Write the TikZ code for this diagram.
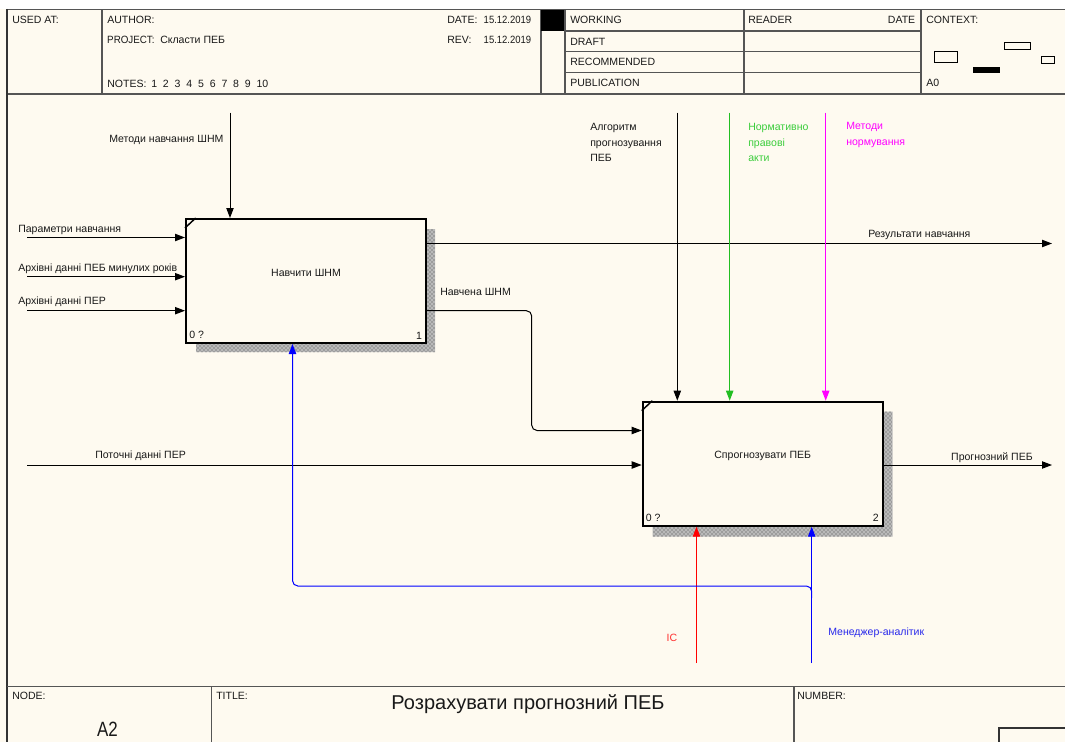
\documentclass[tikz,border=0pt]{standalone}
\usepackage{fontspec}
\setmainfont{Liberation Sans}
\usetikzlibrary{arrows.meta,patterns}
\definecolor{paper}{RGB}{254,250,240}
\definecolor{frame}{RGB}{85,85,85}
\definecolor{txt}{RGB}{25,25,25}
\definecolor{cgreen}{RGB}{34,190,34}
\definecolor{cgreent}{RGB}{60,205,60}
\definecolor{cmag}{RGB}{255,0,255}
\definecolor{cred}{RGB}{255,0,0}
\definecolor{credt}{RGB}{255,50,50}
\definecolor{cblue}{RGB}{0,0,255}
\definecolor{cbluet}{RGB}{40,40,235}
\tikzset{
  lbl/.style={inner sep=0pt, font=\fontsize{7.9pt}{11.5pt}\selectfont, text=txt},
  lblw/.style={lbl, anchor=west, align=left},
  idef/.style={draw=black, line width=1.5pt, fill=paper, minimum width=180pt, minimum height=93pt, inner sep=0pt},
  arr/.style={line width=0.75pt, -{Triangle[length=7.5pt,width=5.5pt]}},
  flow/.style={line width=0.75pt},
  shadowfill/.style={fill=gray!55},
  shadowpat/.style={pattern=crosshatch dots, pattern color=gray!50!black},
  frameline/.style={draw=frame, line width=1.1pt},
}
\begin{document}
\begin{tikzpicture}[x=0.75pt,y=-0.75pt]
\fill[paper] (0,0) rectangle (1065,742);
\fill[white] (0,0) rectangle (1065,9);
\useasboundingbox (0,0) rectangle (1065,742);

% ---------- header frame ----------
\draw[frameline] (7,9.5) -- (1065,9.5);
\draw[frameline] (7,94) -- (1065,94);
\draw[frameline] (102,9.5) -- (102,94);
\draw[frameline] (541,9.5) -- (541,94);
\fill[black] (541,10) rectangle (565,31);
\draw[frameline] (565,9.5) -- (565,94);
\draw[frameline] (744,9.5) -- (744,94);
\draw[frameline] (921,9.5) -- (921,94);
\draw[frameline] (565,31) -- (921,31);
\draw[frameline] (565,51.5) -- (921,51.5);
\draw[frameline] (565,72.5) -- (921,72.5);

\node[lblw] (usedat) at (12,19.5) {USED AT:};
\node[lblw] (author) at (107,19.5) {AUTHOR:};
\node[lblw, xscale=0.93] (project) at (107,40) {PROJECT:};
\node[lblw] (projname) at (160,40) {Скласти ПЕБ};
\node[lblw] (notes) at (107,83.5) {NOTES:};
\node[lblw] (notesnum) at (151,83.5) {1\ \ 2\ \ 3\ \ 4\ \ 5\ \ 6\ \ 7\ \ 8\ \ 9\ \ 10};
\node[lblw] (date) at (447,19.5) {DATE:};
\node[lblw, xscale=0.9] (dateval) at (483.5,19.5) {15.12.2019};
\node[lblw] (rev) at (447,40) {REV:};
\node[lblw, xscale=0.9] (revval) at (483.5,40) {15.12.2019};
\node[lblw] (working) at (570,20) {WORKING};
\node[lblw] (draft) at (570,41.5) {DRAFT};
\node[lblw] (recom) at (570,62.3) {RECOMMENDED};
\node[lblw] (publ) at (570,83) {PUBLICATION};
\node[lblw] (reader) at (748,20) {READER};
\node[lbl, anchor=east] (rdate) at (915.5,20) {DATE};
\node[lblw] (context) at (926,20) {CONTEXT:};
\node[lblw] (azero) at (926,83) {A0};
% context thumbnails
\draw[draw=black, line width=0.6pt] (934,51) rectangle (957,62);
\draw[draw=black, line width=0.6pt] (1004,42) rectangle (1030,49);
\fill[black] (973,67) rectangle (1000,73);
\draw[draw=black, line width=0.6pt] (1041,56) rectangle (1054,63);

% ---------- left border ----------
\draw[draw=black!80, line width=1.6pt] (7,9) -- (7,742);

% ---------- bottom frame ----------
\draw[frameline] (7,686.5) -- (1065,686.5);
\draw[frameline] (211.5,686.5) -- (211.5,742);
\draw[frameline] (794,686.5) -- (794,742);
\draw[draw=black!80, line width=0.8pt] (1065,728) -- (999,728) -- (999,742);
\node[lblw] (nodelbl) at (12,695.5) {NODE:};
\node[lblw] (titlelbl) at (216,695.5) {TITLE:};
\node[lblw] (numlbl) at (797,695.5) {NUMBER:};
\node[lbl, font=\fontsize{15.5pt}{17pt}\selectfont, xscale=0.82] (nodeval) at (107.5,729) {A2};
\node[lbl, font=\fontsize{15pt}{17pt}\selectfont] (title) at (528,704) {Розрахувати прогнозний ПЕБ};

% ---------- shadows ----------
\fill[shadowfill] (426,229) -- (435,229) -- (435,352) -- (196,352) -- (196,343) -- (426,343) -- cycle;
\fill[shadowpat] (426,229) -- (435,229) -- (435,352) -- (196,352) -- (196,343) -- (426,343) -- cycle;
\fill[shadowfill] (882.7,411.7) -- (892.7,411.7) -- (892.7,536.7) -- (652.5,536.7) -- (652.5,525.7) -- (882.7,525.7) -- cycle;
\fill[shadowpat] (882.7,411.7) -- (892.7,411.7) -- (892.7,536.7) -- (652.5,536.7) -- (652.5,525.7) -- (882.7,525.7) -- cycle;

% ---------- activity boxes ----------
\node[idef] (b1) at (306,281) {};
\node[idef] (b2) at (762.7,463.7) {};
\draw[line width=1.1pt] ([yshift=-7.5pt]b1.north west) -- ([xshift=8pt]b1.north west);
\draw[line width=1.1pt] ([yshift=-7.5pt]b2.north west) -- ([xshift=8pt]b2.north west);
\node[lbl] (b1txt) at ([yshift=6pt]b1.center) {Навчити ШНМ};
\node[lbl] (b2txt) at ([yshift=5.5pt]b2.center) {Спрогнозувати ПЕБ};
\node[lbl, anchor=south west] (b1num0) at ([xshift=3pt,yshift=3.5pt]b1.south west) {0 ?};
\node[lbl, anchor=south east] (b1num) at ([xshift=-3.5pt,yshift=3.5pt]b1.south east) {1};
\node[lbl, anchor=south west] (b2num0) at ([xshift=3pt,yshift=3.5pt]b2.south west) {0 ?};
\node[lbl, anchor=south east] (b2num) at ([xshift=-3.5pt,yshift=3.5pt]b2.south east) {2};

% ---------- coordinates ----------
\coordinate (mnS) at (230,112.7);
\coordinate (parS) at (27,237.5);
\coordinate (arhpS) at (27,276.7);
\coordinate (arhrS) at (27,310.7);
\coordinate (resE) at (1052,243.5);
\coordinate (nvJ) at (531.7,310.7);
\coordinate (nvK) at (531.7,430.5);
\coordinate (algS) at (677.3,112.7);
\coordinate (normS) at (729.7,112.7);
\coordinate (mnormS) at (825.7,112.7);
\coordinate (potS) at (27,465);
\coordinate (progE) at (1052,465);
\coordinate (isS) at (696.5,663);
\coordinate (mgrS) at (811.7,663);
\coordinate (brJ) at (811.7,598);
\coordinate (brC) at (292.5,586);

% ---------- connectors ----------
\draw[arr] (mnS) -- (mnS |- b1.north);
\draw[arr] (parS) -- (parS -| b1.west);
\draw[arr] (arhpS) -- (arhpS -| b1.west);
\draw[arr] (arhrS) -- (arhrS -| b1.west);
\draw[arr] (resE -| b1.east) -- (resE);
\draw[arr, rounded corners=4pt] (nvJ -| b1.east) -- (nvJ) -- (nvK) -- (nvK -| b2.west);
\draw[arr] (algS) -- (algS |- b2.north);
\draw[arr, cgreen] (normS) -- (normS |- b2.north);
\draw[arr, cmag] (mnormS) -- (mnormS |- b2.north);
\draw[arr] (potS) -- (potS -| b2.west);
\draw[arr] (progE -| b2.east) -- (progE);
\draw[arr, cred] (isS) -- (isS |- b2.south);
\draw[arr, cblue] (mgrS) -- (mgrS |- b2.south);
\draw[arr, cblue, rounded corners=4pt] (brJ) -- (brJ |- brC) -- (brC) -- (brC |- b1.south);

% ---------- connector labels ----------
\node[lblw] (mnL) at (109,140) {Методи навчання ШНМ};
\node[lblw] (parL) at (18,230) {Параметри навчання};
\node[lblw] (arhpL) at (18,268.5) {Архівні данні ПЕБ минулих років};
\node[lblw] (arhrL) at (18,301.5) {Архівні данні ПЕР};
\node[lblw] (nvL) at (440,291.7) {Навчена ШНМ};
\node[lblw] (resL) at (868,235) {Результати навчання};
\node[lblw] (algL) at (590,142.7) {Алгоритм\\прогнозування\\ПЕБ};
\node[lblw, text=cgreent] (normL) at (748,142.7) {Нормативно\\правові\\акти};
\node[lblw, text=cmag] (mnormL) at (846,135) {Методи\\нормування};
\node[lblw] (potL) at (95,456) {Поточні данні ПЕР};
\node[lbl, anchor=east] (progL) at (1033,457.3) {Прогнозний ПЕБ};
\node[lbl, text=credt] (isL) at (672,638.3) {ІС};
\node[lblw, text=cbluet] (mgrL) at (828,632.7) {Менеджер-аналітик};
\end{tikzpicture}
\end{document}
